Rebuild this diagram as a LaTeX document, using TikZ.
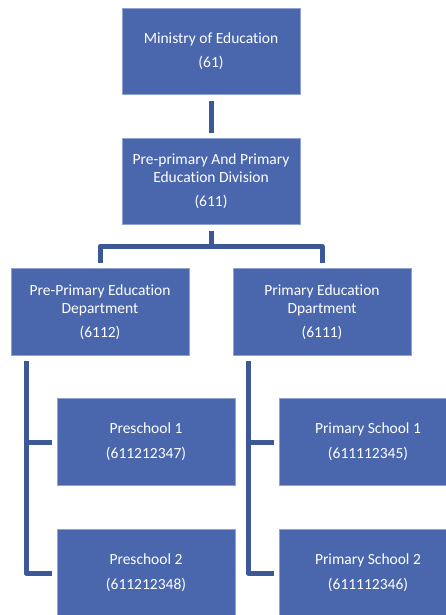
\documentclass[tikz,border=0pt]{standalone}
\usepackage{fontspec}
\setmainfont{Carlito}[Ligatures=NoCommon]
\usetikzlibrary{calc}
\definecolor{boxfill}{HTML}{4A67AE}
\definecolor{boxedge}{HTML}{8FA2D2}
\definecolor{linkcol}{HTML}{3C5896}
\begin{document}
\begin{tikzpicture}[x=1pt,y=-1pt,
  unit/.style={draw=boxedge, line width=0.7pt, fill=boxfill, text=white,
    minimum width=178pt, minimum height=86pt, inner sep=0pt, align=center,
    font=\fontsize{15.5}{18.3}\selectfont},
  link/.style={draw=linkcol, line width=5pt, line join=round, line cap=butt}]
\useasboundingbox (0,0) rectangle (446,615);
\clip (0,0) rectangle (446,615);
\fill[white] (0,0) rectangle (446,615);

% units of the organisation
\node[unit] (min) at (211,51.5) {Ministry of Education\\[5.7pt](61)};
\node[unit] (div) at (211,181.5) {Pre-primary And Primary\\Education Division\\[5.7pt](611)};
\node[unit, minimum height=87pt] (dl) at (100,312) {Pre-Primary Education\\Department\\[5.7pt](6112)};
\node[unit, minimum height=87pt] (dr) at (322,312) {Primary Education\\Dpartment\\[5.7pt](6111)};
\node[unit, minimum height=87pt] (ps1) at (146,442) {Preschool 1\\[6.7pt](611212347)};
\node[unit, minimum height=87pt] (ps2) at (146,573) {Preschool 2\\[6.7pt](611212348)};
\node[unit, minimum height=87pt] (pr1) at (368,442) {Primary School 1\\[6.7pt](611112345)};
\node[unit, minimum height=87pt] (pr2) at (368,573) {Primary School 2\\[6.7pt](611112346)};

% reporting lines
\draw[link, shorten <=6pt, shorten >=5pt] (min.south) -- (div.south |- div.north);
\coordinate (bus) at (211,246.5);
\draw[link, shorten <=6pt] (div.south) -- (bus);
\draw[link, shorten <=5pt, shorten >=5pt] (dl.north) |- (bus) -| (dr.north);

\coordinate (lspine) at ([xshift=15.5pt]dl.south west);
\draw[link, shorten <=5pt, shorten >=5pt] (lspine) |- (ps2.west);
\draw[link, shorten >=5pt] (ps1.west -| lspine) -- (ps1.west);

\coordinate (rspine) at ([xshift=15.5pt]dr.south west);
\draw[link, shorten <=5pt, shorten >=5pt] (rspine) |- (pr2.west);
\draw[link, shorten >=5pt] (pr1.west -| rspine) -- (pr1.west);
\end{tikzpicture}
\end{document}
